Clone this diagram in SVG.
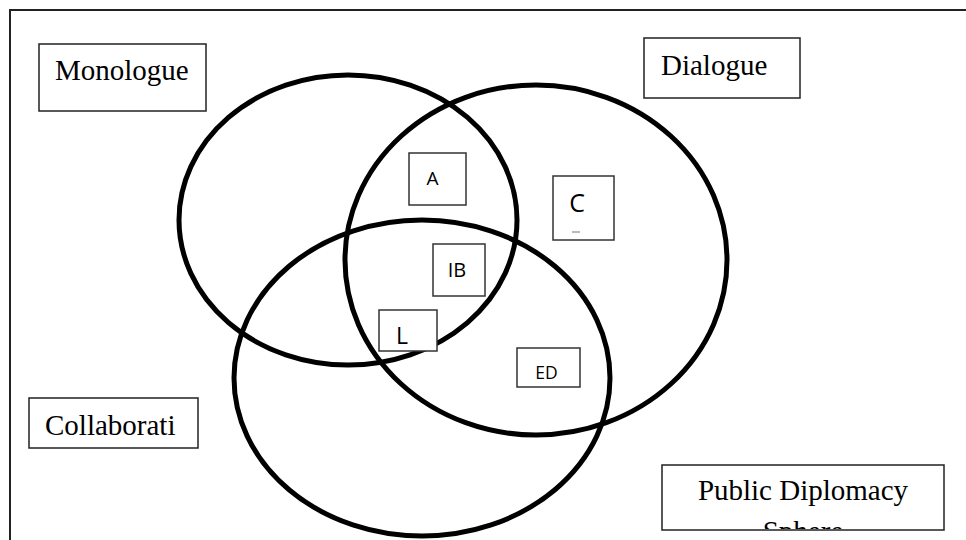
<svg xmlns="http://www.w3.org/2000/svg" width="966" height="540" viewBox="0 0 966 540">
<style>
.frame{fill:none;stroke:#222;stroke-width:2}
.ring{fill:none;stroke:#000;stroke-width:5}
.lbl{fill:#fff;stroke:#222;stroke-width:1.5}
.sm{fill:#fff;stroke:#333;stroke-width:1.5}
.t{font-family:"Liberation Serif","Times New Roman",serif;font-size:29px;fill:#000}
.s{font-family:"Open Sans","Liberation Sans",sans-serif;fill:#000}
</style>
<defs>
<clipPath id="pdclip"><rect x="662" y="465" width="282" height="64"/></clipPath>
</defs>
<rect width="966" height="540" fill="#fff"/>
<path class="frame" d="M10 540 V10 H966"/>
<g id="connectors"></g>
<g id="sets">
<ellipse id="set-monologue" class="ring" cx="348" cy="220" rx="169" ry="145"/>
<ellipse id="set-dialogue" class="ring" cx="536" cy="260" rx="191" ry="175"/>
<ellipse id="set-collaboration" class="ring" cx="422" cy="378" rx="188" ry="158"/>
</g>
<g id="monologue"><rect class="lbl" x="39" y="44" width="167" height="67"/><text class="t" x="55" y="80">Monologue</text></g>
<g id="dialogue"><rect class="lbl" x="644" y="38" width="156" height="60"/><text class="t" x="661" y="75">Dialogue</text></g>
<g id="collaboration"><rect class="lbl" x="29" y="398" width="169" height="50"/><text class="t" x="45" y="435">Collaborati</text></g>
<g id="sphere"><rect class="lbl" x="662" y="465" width="282" height="65"/>
<g clip-path="url(#pdclip)"><text class="t" x="803" y="500" text-anchor="middle">Public Diplomacy</text><text class="t" x="803" y="541" text-anchor="middle">Sphere</text></g></g>
<g id="a"><rect class="sm" x="409" y="153" width="57" height="52"/><text class="s" x="432.5" y="185" font-size="19" text-anchor="middle">A</text></g>
<g id="c"><rect class="sm" x="553" y="176" width="61" height="64"/><text class="s" x="577" y="212" font-size="25" text-anchor="middle">C</text><line x1="572" y1="232" x2="580" y2="232" stroke="#777" stroke-width="1"/></g>
<g id="ib"><rect class="sm" x="433" y="244" width="52" height="52"/><text class="s" x="457" y="277" font-size="20" text-anchor="middle">IB</text></g>
<g id="l"><rect class="sm" x="379" y="310" width="58" height="41"/><text class="s" x="396" y="344" font-size="23">L</text></g>
<g id="ed"><rect class="sm" x="517" y="348" width="63" height="39"/><text class="s" x="546.5" y="379" font-size="17.5" text-anchor="middle">ED</text></g>
</svg>
